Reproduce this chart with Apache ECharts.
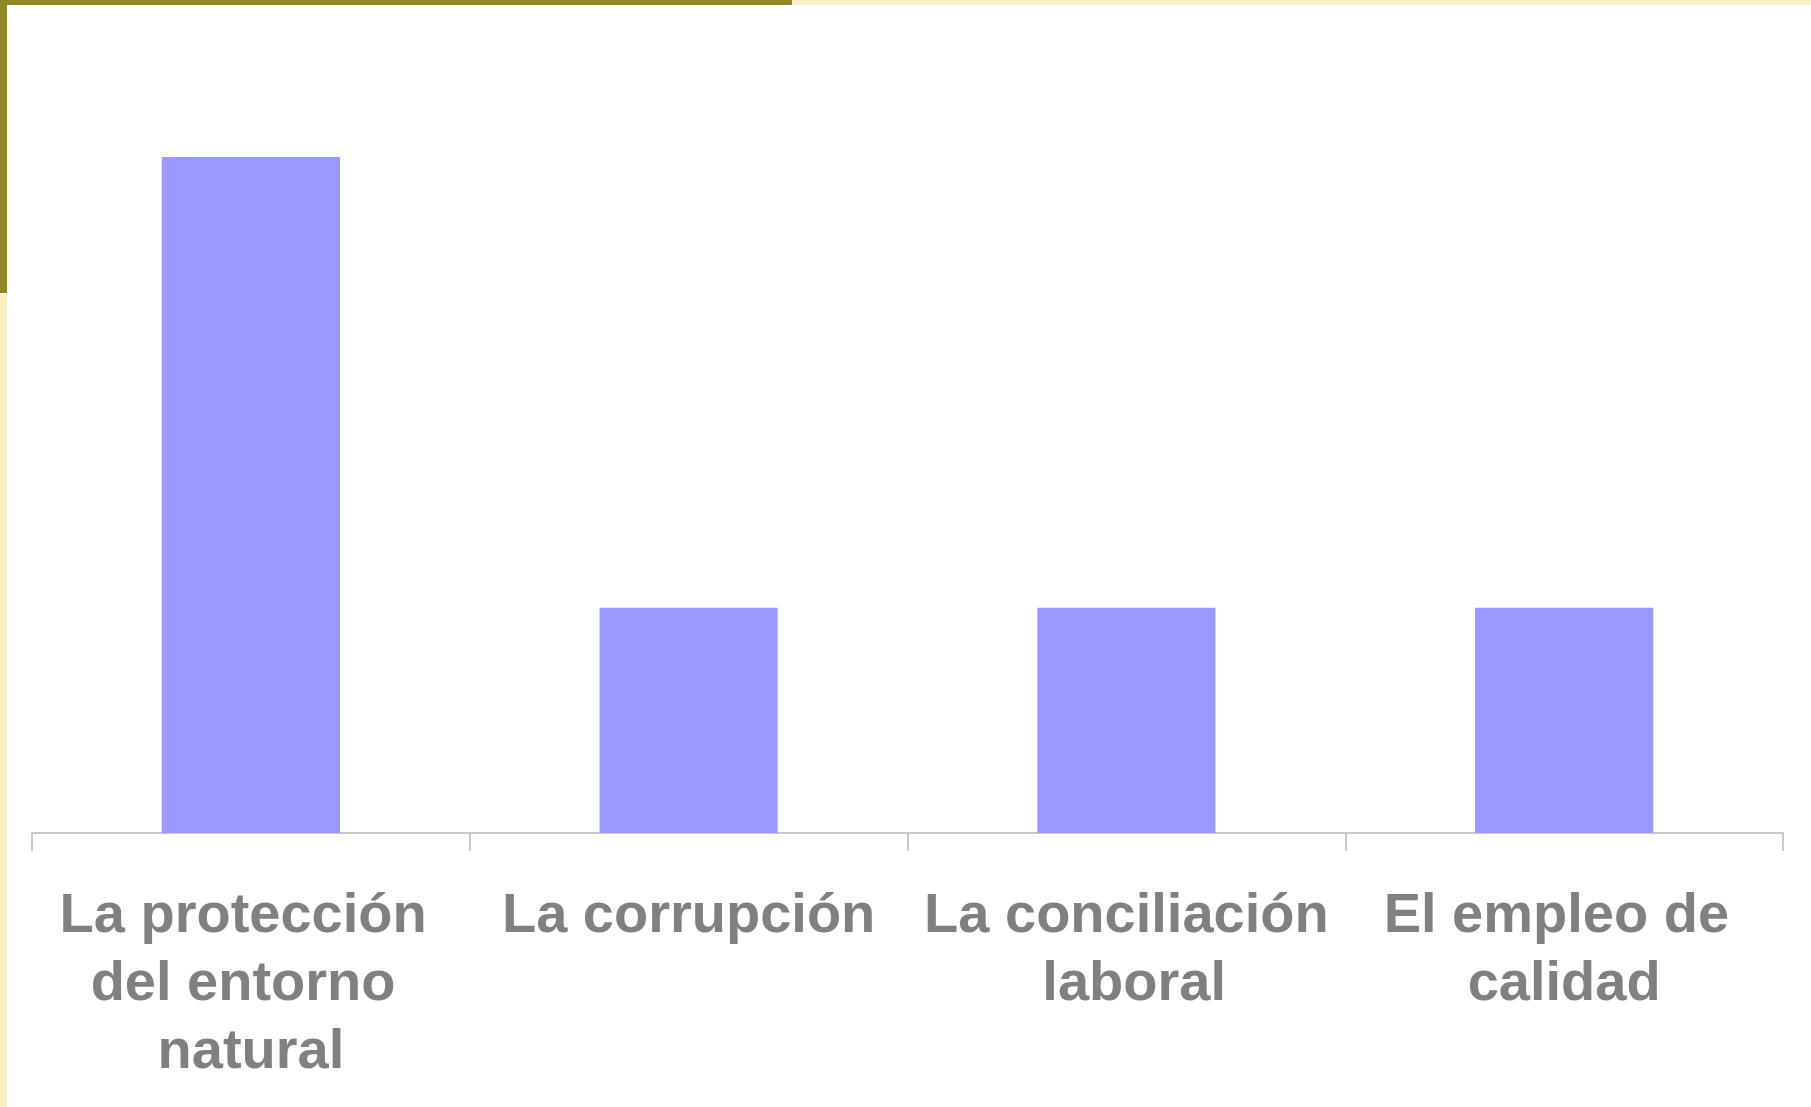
<!DOCTYPE html>
<html>
<head>
<meta charset="utf-8">
<script src="https://cdn.jsdelivr.net/npm/echarts@6/dist/echarts.min.js"></script>
<style>
  html, body { margin: 0; padding: 0; background: #fff; }
  #chart { width: 1811px; height: 1107px; }
</style>
</head>
<body>
<div id="chart"></div>
<script>
// datos
const categories = [
  "La protección del entorno natural",
  "La corrupción",
  "La conciliación laboral",
  "El empleo de calidad"
];
const values = [3, 1, 1, 1];

const chart = echarts.init(document.getElementById("chart"));
chart.setOption({
  animation: false,
  backgroundColor: "#ffffff",
  grid: {
    left: 32,
    right: 28,
    top: 157,
    bottom: 274
  },
  // marco decorativo de la diapositiva
  graphic: [
    { type: "rect", shape: { x: 0, y: 0, width: 792, height: 5 }, style: { fill: "#928726" } },
    { type: "rect", shape: { x: 792, y: 0, width: 1019, height: 5 }, style: { fill: "#F8F0C2" } },
    { type: "rect", shape: { x: 0, y: 0, width: 7, height: 293 }, style: { fill: "#928726" } },
    { type: "rect", shape: { x: 0, y: 293, width: 7, height: 814 }, style: { fill: "#F8F0C2" } }
  ],
  xAxis: {
    type: "category",
    data: categories,
    axisLine: { show: true, lineStyle: { color: "#b8b8b8", width: 1.5 } },
    axisTick: { show: true, length: 18, lineStyle: { color: "#b8b8b8", width: 1.5 } },
    axisLabel: {
      interval: 0,
      margin: 50,
      width: 430,
      overflow: "break",
      fontFamily: "Liberation Sans, Arial, sans-serif",
      fontWeight: "bold",
      fontSize: 56,
      lineHeight: 68,
      color: "#808080",
      align: "center"
    }
  },
  yAxis: {
    type: "value",
    min: 0,
    max: 3,
    show: false,
    splitLine: { show: false }
  },
  series: [{
    type: "bar",
    data: values,
    barWidth: "40.7%",
    itemStyle: { color: "#9999FF" }
  }]
});
</script>
</body>
</html>
